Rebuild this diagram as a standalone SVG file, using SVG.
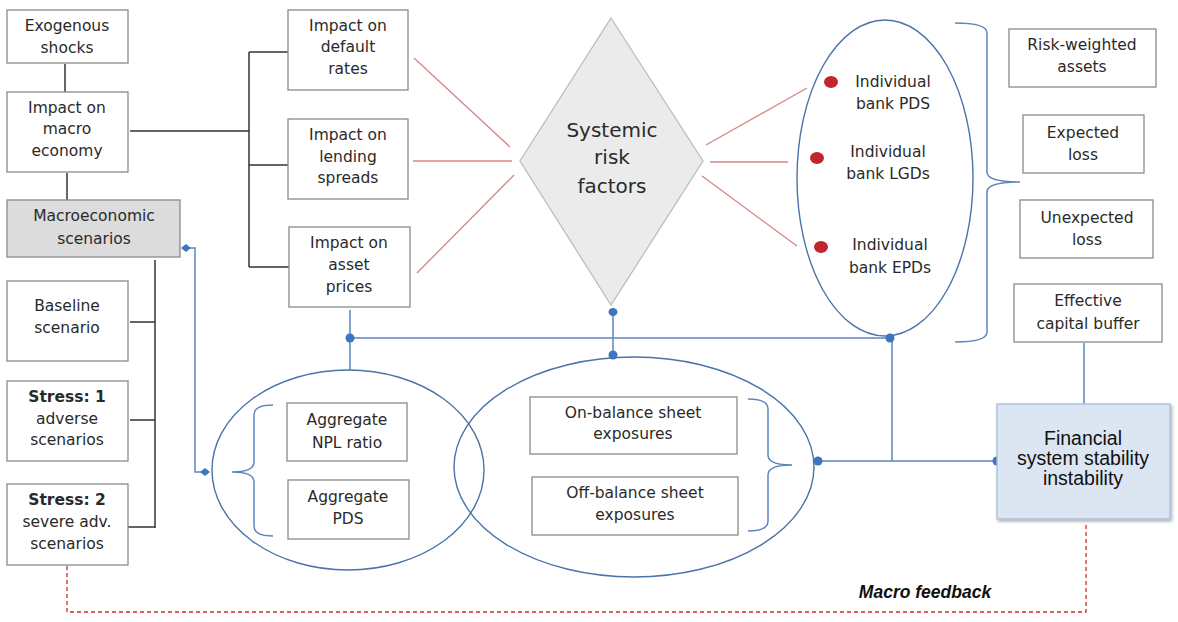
<svg xmlns="http://www.w3.org/2000/svg" width="1178" height="622" viewBox="0 0 1178 622">
<style>
.box{fill:#fff;stroke:#8a8a8a;stroke-width:1.3}
.t{font-family:"DejaVu Sans","Open Sans",sans-serif;font-size:15.5px;fill:#2a2a2a;text-anchor:middle}
.b{font-weight:bold}
.blk{stroke:#333;stroke-width:1.5;fill:none}
.red{stroke:#d98585;stroke-width:1.3;fill:none}
.blu{stroke:#5b86c0;stroke-width:1.5;fill:none}
.ell{stroke:#4a73a8;stroke-width:1.4;fill:none}
.dot{fill:#3d75c0}
.rdot{fill:#c0262b}
.ar{font-family:"Liberation Sans",Arial,sans-serif;font-size:19.5px;fill:#111;text-anchor:middle}
</style>
<defs>
<filter id="sh" x="-10%" y="-10%" width="130%" height="130%"><feDropShadow dx="1.5" dy="2" stdDeviation="1.5" flood-color="#000" flood-opacity="0.3"/></filter>
</defs>
<rect width="1178" height="622" fill="#fff"/>

<g id="connectors">
<line class="blk" x1="65" y1="64" x2="65" y2="92"/>
<line class="blk" x1="67" y1="173" x2="67" y2="200"/>
<line class="blk" x1="130" y1="131" x2="249" y2="131"/>
<line class="blk" x1="249" y1="52" x2="249" y2="267"/>
<line class="blk" x1="249" y1="52" x2="288" y2="52"/>
<line class="blk" x1="249" y1="165" x2="288" y2="165"/>
<line class="blk" x1="249" y1="267" x2="289" y2="267"/>
<line class="blk" x1="155" y1="260" x2="155" y2="528"/>
<line class="blk" x1="130" y1="322" x2="155" y2="322"/>
<line class="blk" x1="130" y1="420" x2="155" y2="420"/>
<line class="blk" x1="128" y1="527" x2="155" y2="527"/>
<line class="red" x1="414" y1="58" x2="510" y2="147"/>
<line class="red" x1="413" y1="161" x2="512" y2="161"/>
<line class="red" x1="417" y1="273" x2="514" y2="175"/>
<line class="red" x1="706" y1="145" x2="807" y2="88"/>
<line class="red" x1="710" y1="162" x2="788" y2="162"/>
<line class="red" x1="702" y1="176" x2="797" y2="246"/>
<polyline class="blu" points="186,248 195,248 195,472 205,472"/>
<path class="dot" d="M181,248 L186,244 L191,248 L186,252 Z"/>
<path class="dot" d="M200,472 L205,468 L210,472 L205,476 Z"/>
<line class="blu" x1="350" y1="310" x2="350" y2="370"/>
<line class="blu" x1="350" y1="338" x2="890" y2="338"/>
<line class="blu" x1="613" y1="313" x2="613" y2="355"/>
<line class="blu" x1="892" y1="338" x2="892" y2="461"/>
<line class="blu" x1="818" y1="461" x2="997" y2="461"/>
<line class="blu" x1="1084" y1="343" x2="1084" y2="404"/>
<circle class="dot" cx="350" cy="338" r="4.5"/>
<ellipse class="dot" cx="613" cy="312" rx="4.5" ry="4"/>
<circle class="dot" cx="613" cy="355" r="4.5"/>
<circle class="dot" cx="890" cy="338" r="4.5"/>
<circle class="dot" cx="818" cy="461" r="4.5"/>
<circle class="dot" cx="997" cy="461" r="4.5"/>
<polyline points="67,566 67,612 1086,612 1086,522" fill="none" stroke="#d42a2a" stroke-width="1.3" stroke-dasharray="4,3"/>
<path class="blu" d="M273,405 Q254,405 254,415 L254,462 Q254,472 232,472 Q254,472 254,482 L254,526 Q254,536 273,536"/>
<path class="blu" d="M748,399 Q768,399 768,409 L768,455 Q768,465 792,465 Q768,465 768,475 L768,521 Q768,531 748,531"/>
<path class="blu" d="M955,23 Q987,23 987,33 L987,172 Q987,182 1020,182 Q987,182 987,192 L987,332 Q987,342 955,342"/>
</g>

<g id="n-exo"><rect class="box" x="7" y="10" width="121" height="53"/><text class="t" x="67" y="31">Exogenous</text><text class="t" x="67" y="53">shocks</text></g>
<g id="n-macro"><rect class="box" x="7" y="92" width="121" height="80"/><text class="t" x="67" y="113">Impact on</text><text class="t" x="67" y="134">macro</text><text class="t" x="67" y="156">economy</text></g>
<g id="n-scen"><rect x="7" y="200" width="173" height="57" fill="#dcdcdc" stroke="#8a8a8a" stroke-width="1.3"/><text class="t" x="94" y="221">Macroeconomic</text><text class="t" x="94" y="244">scenarios</text></g>
<g id="n-base"><rect class="box" x="7" y="281" width="121" height="80"/><text class="t" x="67" y="311">Baseline</text><text class="t" x="67" y="333">scenario</text></g>
<g id="n-s1"><rect class="box" x="7" y="381" width="121" height="80"/><text class="t b" x="67" y="402">Stress: 1</text><text class="t" x="67" y="424">adverse</text><text class="t" x="67" y="445">scenarios</text></g>
<g id="n-s2"><rect class="box" x="7" y="484" width="121" height="81"/><text class="t b" x="67" y="505">Stress: 2</text><text class="t" x="67" y="527">severe adv.</text><text class="t" x="67" y="549">scenarios</text></g>

<g id="n-default"><rect class="box" x="288" y="10" width="120" height="80"/><text class="t" x="348" y="31">Impact on</text><text class="t" x="348" y="52">default</text><text class="t" x="348" y="74">rates</text></g>
<g id="n-lending"><rect class="box" x="288" y="119" width="120" height="80"/><text class="t" x="348" y="140">Impact on</text><text class="t" x="348" y="162">lending</text><text class="t" x="348" y="183">spreads</text></g>
<g id="n-asset"><rect class="box" x="289" y="227" width="121" height="80"/><text class="t" x="349" y="248">Impact on</text><text class="t" x="349" y="270">asset</text><text class="t" x="349" y="292">prices</text></g>

<g id="n-systemic"><polygon points="611,18 703,161 611,305 520,161" fill="#ebebeb" stroke="#bdbdbd" stroke-width="1.3"/><text class="t" x="612" y="137" style="font-size:20px">Systemic</text><text class="t" x="612" y="164" style="font-size:20px">risk</text><text class="t" x="612" y="193" style="font-size:20px">factors</text></g>

<g id="n-individual"><ellipse class="ell" cx="885" cy="178" rx="88" ry="158"/>
<ellipse class="rdot" cx="831" cy="82" rx="7" ry="6"/><ellipse class="rdot" cx="817" cy="158" rx="7" ry="6"/><ellipse class="rdot" cx="821" cy="247" rx="7" ry="6"/>
<text class="t" x="893" y="87">Individual</text><text class="t" x="893" y="109">bank PDS</text>
<text class="t" x="888" y="157">Individual</text><text class="t" x="888" y="179">bank LGDs</text>
<text class="t" x="890" y="250">Individual</text><text class="t" x="890" y="273">bank EPDs</text></g>

<g id="n-rwa"><rect class="box" x="1009" y="29" width="147" height="58"/><text class="t" x="1082" y="50">Risk-weighted</text><text class="t" x="1082" y="72">assets</text></g>
<g id="n-el"><rect class="box" x="1023" y="115" width="121" height="58"/><text class="t" x="1083" y="138">Expected</text><text class="t" x="1083" y="160">loss</text></g>
<g id="n-ul"><rect class="box" x="1020" y="200" width="133" height="58"/><text class="t" x="1087" y="223">Unexpected</text><text class="t" x="1087" y="245">loss</text></g>
<g id="n-ecb"><rect class="box" x="1014" y="284" width="148" height="58"/><text class="t" x="1088" y="306">Effective</text><text class="t" x="1088" y="329">capital buffer</text></g>

<g id="n-aggregate"><ellipse class="ell" cx="348" cy="470" rx="136" ry="100"/>
<rect class="box" x="287" y="403" width="120" height="58"/><text class="t" x="347" y="425">Aggregate</text><text class="t" x="347" y="448">NPL ratio</text>
<rect class="box" x="288" y="480" width="121" height="59"/><text class="t" x="348" y="502">Aggregate</text><text class="t" x="348" y="524">PDS</text></g>

<g id="n-exposures"><ellipse class="ell" cx="634" cy="467" rx="180" ry="110"/>
<rect class="box" x="530" y="397" width="207" height="57"/><text class="t" x="633" y="418">On-balance sheet</text><text class="t" x="633" y="439">exposures</text>
<rect class="box" x="532" y="477" width="206" height="58"/><text class="t" x="635" y="498">Off-balance sheet</text><text class="t" x="635" y="520">exposures</text></g>

<g id="n-fss"><rect x="997" y="404" width="173" height="115" fill="#dce6f2" stroke="#a5bedc" stroke-width="1.3" filter="url(#sh)"/>
<text class="ar" x="1083" y="445">Financial</text>
<text class="ar" x="1083" y="465">system stability</text>
<text class="ar" x="1083" y="485">instability</text></g>

<g id="n-feedback"><text x="925" y="598" style="font-family:'Liberation Sans',Arial,sans-serif;font-size:17.5px;font-weight:bold;font-style:italic;fill:#111;text-anchor:middle">Macro feedback</text></g>
</svg>
